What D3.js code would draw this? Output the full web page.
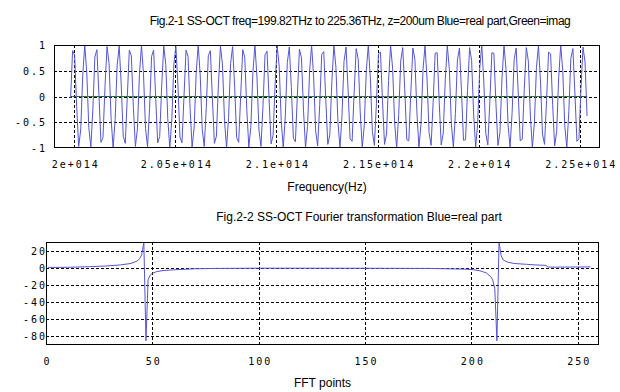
<!DOCTYPE html>
<html><head><meta charset="utf-8">
<script src="https://cdn.jsdelivr.net/npm/d3@7"></script>
<style>
html,body{margin:0;padding:0;background:#fff;}
svg{display:block;}
.tl{font-family:"DejaVu Sans Mono",monospace;font-size:10px;letter-spacing:2px;fill:#000;}
.ttl{font-family:"Liberation Sans",Arial,sans-serif;font-size:12px;fill:#000;}
</style></head><body>
<svg id="chart" width="620" height="392"></svg>
<script>
// ---------- data ----------
const title1 = "Fig.2-1 SS-OCT freq=199.82THz to 225.36THz, z=200um Blue=real part,Green=imag";
const title2 = "Fig.2-2 SS-OCT Fourier transformation Blue=real part";
const xLabel1 = "Frequency(Hz)";
const xLabel2 = "FFT points";

const freqStartHz = 199.82e12;
const freqEndHz = 225.36e12;

// real part of the interferogram (256 samples)
const realPart = [
-0.03,0.89,0.80,-0.19,-0.97,-0.65,0.41,1.00,0.46,-0.60,
-0.98,-0.25,0.77,0.91,0.02,-0.89,-0.80,0.20,0.97,0.64,
-0.42,-1.00,-0.45,0.61,0.98,0.24,-0.77,-0.91,-0.01,0.90,
0.79,-0.21,-0.97,-0.63,0.43,1.00,0.44,-0.62,-0.98,-0.23,
0.78,0.90,0.00,-0.90,-0.78,0.22,0.98,0.62,-0.44,-1.00,
-0.43,0.63,0.97,0.22,-0.79,-0.90,0.01,0.90,0.78,-0.23,
-0.98,-0.61,0.45,1.00,0.42,-0.64,-0.97,-0.21,0.79,0.89,
-0.02,-0.91,-0.77,0.24,0.98,0.61,-0.46,-1.00,-0.41,0.64,
0.97,0.20,-0.80,-0.89,0.03,0.91,0.76,-0.25,-0.98,-0.60,
0.46,1.00,0.40,-0.65,-0.97,-0.18,0.81,0.88,-0.04,-0.92,
-0.75,0.26,0.98,0.59,-0.47,-1.00,-0.39,0.66,0.96,0.17,
-0.81,-0.88,0.05,0.92,0.75,-0.27,-0.99,-0.58,0.48,1.00,
0.38,-0.67,-0.96,-0.16,0.82,0.87,-0.06,-0.93,-0.74,0.29,
0.99,0.57,-0.49,-1.00,-0.37,0.68,0.96,0.15,-0.82,-0.87,
0.07,0.93,0.73,-0.30,-0.99,-0.56,0.50,1.00,0.36,-0.68,
-0.95,-0.14,0.83,0.86,-0.08,-0.93,-0.73,0.31,0.99,0.55,
-0.51,-1.00,-0.35,0.69,0.95,0.13,-0.84,-0.86,0.09,0.94,
0.72,-0.32,-0.99,-0.54,0.52,0.99,0.34,-0.70,-0.95,-0.12,
0.84,0.85,-0.11,-0.94,-0.71,0.33,0.99,0.53,-0.53,-0.99,
-0.33,0.71,0.94,0.11,-0.85,-0.84,0.12,0.95,0.70,-0.34,
-0.99,-0.52,0.54,0.99,0.32,-0.72,-0.94,-0.10,0.85,0.84,
-0.13,-0.95,-0.70,0.35,1.00,0.52,-0.55,-0.99,-0.31,0.72,
0.94,0.09,-0.86,-0.83,0.14,0.95,0.69,-0.36,-1.00,-0.51,
0.56,0.99,0.30,-0.73,-0.93,-0.08,0.86,0.83,-0.15,-0.96,
-0.68,0.37,1.00,0.50,-0.57,-0.99,-0.29,0.74,0.93,0.07,
-0.87,-0.82,0.16,0.96,0.67,-0.38
];
// imaginary part (zero everywhere)
const imagPart = [
0,0,0,0,0,0,0,0,0,0,0,0,0,0,0,0,0,0,0,0,0,0,0,0,0,0,0,0,0,0,0,0,
0,0,0,0,0,0,0,0,0,0,0,0,0,0,0,0,0,0,0,0,0,0,0,0,0,0,0,0,0,0,0,0,
0,0,0,0,0,0,0,0,0,0,0,0,0,0,0,0,0,0,0,0,0,0,0,0,0,0,0,0,0,0,0,0,
0,0,0,0,0,0,0,0,0,0,0,0,0,0,0,0,0,0,0,0,0,0,0,0,0,0,0,0,0,0,0,0,
0,0,0,0,0,0,0,0,0,0,0,0,0,0,0,0,0,0,0,0,0,0,0,0,0,0,0,0,0,0,0,0,
0,0,0,0,0,0,0,0,0,0,0,0,0,0,0,0,0,0,0,0,0,0,0,0,0,0,0,0,0,0,0,0,
0,0,0,0,0,0,0,0,0,0,0,0,0,0,0,0,0,0,0,0,0,0,0,0,0,0,0,0,0,0,0,0,
0,0,0,0,0,0,0,0,0,0,0,0,0,0,0,0,0,0,0,0,0,0,0,0,0,0,0,0,0,0,0,0
];

const freqTicks = [2.0e14, 2.05e14, 2.1e14, 2.15e14, 2.2e14, 2.25e14];
const freqTickLabels = ["2e+014","2.05e+014","2.1e+014","2.15e+014","2.2e+014","2.25e+014"];
const ampTicks = [1, 0.5, 0, -0.5, -1];
const ampTickLabels = ["1","0.5","0","-0.5","-1"];

// FFT real part
const fftIndex = [1,10,20,28,35,40,43,44,45,46,47,48,49,50,52,55,60,70,80,100,150,180,195,200,204,207,209,210,211,212,213,214,215,217,220,226,230,235,236,240,256];
const fftReal  = [0.4,0.5,1.2,2.0,3.3,5.0,8.0,10.5,15,29.5,-85,-14,-8.5,-6.5,-4.5,-3.3,-2.4,-1.2,-0.8,-0.5,-0.6,-0.8,-1.5,-2,-3.5,-6,-10,-14,-24,-85,30,14,9,6.5,5,4,3.3,2.8,0.8,0.7,1.0];
const fftTicks = [0,50,100,150,200,250];
const fftTickLabels = ["0","50","100","150","200","250"];
const fftYTicks = [20,0,-20,-40,-60,-80];
const fftYTickLabels = ["20","0","-20","-40","-60","-80"];

// ---------- drawing ----------
const svg = d3.select("#chart");
const BLUE = "#5555d9", GREEN = "#1a6b1a";

function panel(cfg){
  const g = svg.append("g");
  const x = d3.scaleLinear().domain(cfg.xDomain).range([cfg.left, cfg.right]);
  const y = d3.scaleLinear().domain(cfg.yDomain).range([cfg.bottom, cfg.top]);
  const clipId = "clip" + cfg.id;
  svg.append("clipPath").attr("id", clipId).append("rect")
    .attr("x", cfg.left).attr("y", cfg.top - 1).attr("width", cfg.right - cfg.left).attr("height", cfg.bottom - cfg.top + 2);
  // grid
  g.selectAll(".vg").data(cfg.xTicks).join("line")
    .attr("x1", d => Math.round(x(d)) + 0.5).attr("x2", d => Math.round(x(d)) + 0.5)
    .attr("y1", cfg.top).attr("y2", cfg.bottom)
    .attr("stroke", "#000").attr("stroke-dasharray", "3,2").attr("stroke-width", 1);
  g.selectAll(".hg").data(cfg.yTicks.filter(d => d > cfg.yDomain[0] && d < cfg.yDomain[1])).join("line")
    .attr("y1", d => Math.round(y(d)) + 0.5).attr("y2", d => Math.round(y(d)) + 0.5)
    .attr("x1", cfg.left).attr("x2", cfg.right)
    .attr("stroke", "#000").attr("stroke-dasharray", "3,2").attr("stroke-width", 1);
  // axes labels via d3 axes
  const xa = d3.axisBottom(x).tickValues(cfg.xTicks).tickSize(0).tickPadding(0)
    .tickFormat((d,i) => cfg.xTickLabels[i]);
  const gx = g.append("g").attr("transform", `translate(0,${cfg.xLabelY})`).call(xa);
  gx.select(".domain").remove();
  gx.selectAll("text").attr("class","tl").attr("dy","0.35em").attr("y",0).attr("dx","1px");
  const ya = d3.axisLeft(y).tickValues(cfg.yTicks).tickSize(0).tickPadding(0)
    .tickFormat((d,i) => cfg.yTickLabels[i]);
  const gy = g.append("g").attr("transform", `translate(${cfg.yLabelX},0)`).call(ya);
  gy.select(".domain").remove();
  gy.selectAll("text").attr("class","tl").attr("dy","0.35em").attr("x",0);
  const lines = g.append("g").attr("clip-path", `url(#${clipId})`);
  cfg.draw(lines, x, y);
  // frame
  g.append("rect").attr("x", cfg.left + 0.5).attr("y", cfg.top + 0.5)
    .attr("width", cfg.right - cfg.left - 1).attr("height", cfg.bottom - cfg.top - 1)
    .attr("fill","none").attr("stroke","#000").attr("stroke-width",1);
  // title + axis title
  g.append("text").attr("class","ttl").attr("x", cfg.titleX).attr("y", cfg.titleY)
    .attr("text-anchor","middle").style("letter-spacing", cfg.titleSpacing).text(cfg.title);
  g.append("text").attr("class","ttl").attr("x", (cfg.left + cfg.right)/2).attr("y", cfg.axisTitleY)
    .attr("text-anchor","middle").text(cfg.axisTitle);
}

const nS = realPart.length;
const freqOf = i => freqStartHz + i * (freqEndHz - freqStartHz) / (nS - 1);

panel({
  id: 1, left: 54, right: 600, top: 45, bottom: 148,
  xDomain: [1.99e14, 2.26e14], yDomain: [-1, 1],
  xTicks: freqTicks, xTickLabels: freqTickLabels,
  yTicks: ampTicks, yTickLabels: ampTickLabels,
  xLabelY: 164, yLabelX: 47,
  title: title1, titleX: 360, titleY: 25, titleSpacing: "-0.45px",
  axisTitle: xLabel1, axisTitleY: 191,
  draw: (g, x, y) => {
    g.append("path").datum(imagPart)
      .attr("d", d3.line().x((d,i) => x(freqOf(i))).y(d => y(d)))
      .attr("fill","none").attr("stroke", GREEN).attr("stroke-width", 1);
    g.append("path").datum(realPart)
      .attr("d", d3.line().x((d,i) => x(freqOf(i))).y(d => y(d)))
      .attr("fill","none").attr("stroke", BLUE).attr("stroke-width", 1);
  }
});

panel({
  id: 2, left: 46, right: 599, top: 242, bottom: 345,
  xDomain: [0, 260], yDomain: [-90, 30],
  xTicks: fftTicks, xTickLabels: fftTickLabels,
  yTicks: fftYTicks, yTickLabels: fftYTickLabels,
  xLabelY: 361, yLabelX: 47,
  title: title2, titleX: 359, titleY: 221, titleSpacing: "0px",
  axisTitle: xLabel2, axisTitleY: 387,
  draw: (g, x, y) => {
    g.append("path").datum(fftIndex.map((k,i) => [k, fftReal[i]]))
      .attr("d", d3.line().x(d => x(d[0])).y(d => y(d[1])))
      .attr("fill","none").attr("stroke", BLUE).attr("stroke-width", 1);
  }
});
</script>
</body></html>
